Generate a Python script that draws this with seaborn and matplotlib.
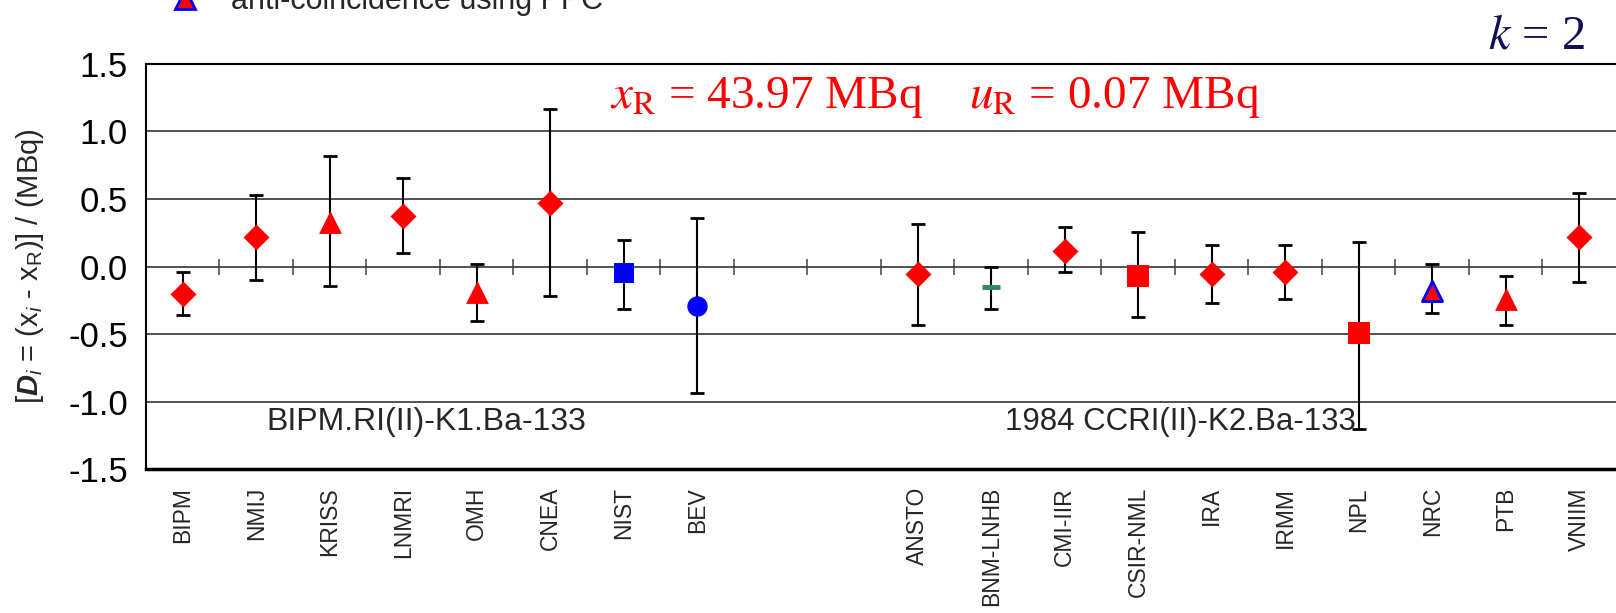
import numpy as np
import pandas as pd
import matplotlib
matplotlib.use("Agg")
import matplotlib.pyplot as plt
import seaborn as sns
from matplotlib.lines import Line2D
from matplotlib.ticker import FormatStrFormatter

# ---------------- data ----------------
categories = ["BIPM", "NMIJ", "KRISS", "LNMRI", "OMH", "CNEA", "NIST", "BEV", "", "",
              "ANSTO", "BNM-LNHB", "CMI-IIR", "CSIR-NML", "IRA", "IRMM", "NPL", "NRC", "PTB", "VNIIM"]
labs = ["BIPM", "NMIJ", "KRISS", "LNMRI", "OMH", "CNEA", "NIST", "BEV",
        "ANSTO", "BNM-LNHB", "CMI-IIR", "CSIR-NML", "IRA", "IRMM", "NPL", "NRC", "PTB", "VNIIM"]
values = [-0.20, 0.215, 0.33, 0.373, -0.19, 0.47, -0.05, -0.296,
          -0.057, -0.153, 0.116, -0.069, -0.057, -0.042, -0.494, -0.18, -0.244, 0.215]
upper = [-0.04, 0.53, 0.815, 0.657, 0.015, 1.17, 0.20, 0.36,
         0.314, 0.0, 0.289, 0.257, 0.16, 0.16, 0.185, 0.015, -0.069, 0.546]
lower = [-0.36, -0.10, -0.145, 0.10, -0.40, -0.217, -0.316, -0.94,
         -0.43, -0.316, -0.042, -0.373, -0.274, -0.244, -1.20, -0.343, -0.43, -0.114]
methods = ["diamond", "diamond", "triangle", "diamond", "triangle", "diamond", "bluesquare", "bluecircle",
           "diamond", "dash", "diamond", "redsquare", "diamond", "diamond", "redsquare", "ppc", "triangle", "diamond"]
yticks = [-1.5, -1.0, -0.5, 0.0, 0.5, 1.0, 1.5]
group_labels = ["BIPM.RI(II)-K1.Ba-133", "1984 CCRI(II)-K2.Ba-133"]
legend_label = "anti-coincidence using PPC"
ref_text = r"$x_{\mathrm{R}}$ = 43.97 MBq    $u_{\mathrm{R}}$ = 0.07 MBq"

# ---------------- styles ----------------
RED = "#ff0000"
BLUE = "#0000ff"
styles = {
    "diamond": dict(marker="D", s=175, color=RED, edgecolor=RED, linewidth=0),
    "triangle": dict(marker="^", s=270, color=RED, edgecolor=RED, linewidth=0),
    "bluesquare": dict(marker="s", s=200, color=BLUE, edgecolor=BLUE, linewidth=0),
    "bluecircle": dict(marker="o", s=215, color=BLUE, edgecolor=BLUE, linewidth=0),
    "dash": dict(marker="_", s=170, color="#2e8b57", edgecolor="#2e8b57", linewidth=3.5),
    "redsquare": dict(marker="s", s=245, color=RED, edgecolor=RED, linewidth=0),
    "ppc": dict(marker="^", s=210, color=RED, edgecolor=BLUE, linewidth=2),
}

sns.set_style("white")
plt.rcParams["font.family"] = ["Liberation Sans", "DejaVu Sans"]
plt.rcParams["axes.unicode_minus"] = False
plt.rcParams["mathtext.fontset"] = "custom"
plt.rcParams["mathtext.rm"] = "Liberation Sans"
plt.rcParams["mathtext.it"] = "Liberation Sans:italic"
plt.rcParams["mathtext.bf"] = "Liberation Sans:bold"
plt.rcParams["mathtext.bfit"] = "Liberation Sans:bold:italic"

pos = {c: i for i, c in enumerate(categories) if c}
df = pd.DataFrame({"lab": labs, "value": values, "upper": upper, "lower": lower, "method": methods})
df["x"] = df["lab"].map(pos)

fig = plt.figure(figsize=(16.16, 6.13), dpi=100)
ax = fig.add_axes([0.0903, 0.2349, 0.9097, 0.6607])

# error bars
ax.errorbar(df["x"], df["value"],
            yerr=[df["value"] - df["lower"], df["upper"] - df["value"]],
            fmt="none", ecolor="black", elinewidth=1.5, capsize=5, capthick=2, zorder=2)

# markers
for m, sub in df.groupby("method", sort=False):
    sns.scatterplot(data=sub, x="x", y="value", ax=ax, zorder=3, legend=False, **styles[m])

# axes formatting
ax.set_xlim(-0.5, len(categories) - 0.5)
ax.set_ylim(-1.5, 1.5)
ax.set_yticks(yticks)
ax.yaxis.set_major_formatter(FormatStrFormatter("%.1f"))
ax.set_xticks(np.arange(len(categories)))
ax.set_xticklabels(categories, rotation=90, fontsize=16.5, va="top", ha="center")
ax.tick_params(axis="x", length=0, pad=13)
ax.tick_params(axis="y", direction="out", length=7, width=1.2, labelsize=25, pad=6, colors="black")
ax.yaxis.grid(True, color="#333333", lw=1.2)
ax.xaxis.grid(False)
ax.set_xlabel("")
ax.set_ylabel(r"[$\mathbfit{D}_{\mathit{i}}$ = (x$_{\mathit{i}}$ - x$_{\mathrm{R}}$)] / (MBq)", fontsize=21)
ax.yaxis.set_label_coords(-0.068, 0.5)
for side in ["left", "top"]:
    ax.spines[side].set_color("black")
    ax.spines[side].set_linewidth(1.5)
ax.spines["bottom"].set_color("black")
ax.spines["bottom"].set_linewidth(2.5)
ax.spines["right"].set_visible(False)

# zero line with category-boundary ticks
sec = ax.secondary_xaxis(0.5)
sec.set_xticks(np.arange(len(categories) - 1) + 0.5)
sec.tick_params(direction="inout", length=11, width=1.1, labelbottom=False, labeltop=False,
                bottom=True, top=False, colors="#444444")
sec.spines["bottom"].set_color("#555555")
sec.spines["bottom"].set_linewidth(1.6)
sec.spines["top"].set_visible(False)

# texts
ax.text(3.32, -1.155, group_labels[0], ha="center", va="center", fontsize=23, zorder=1)
ax.text(13.58, -1.155, group_labels[1], ha="center", va="center", fontsize=22.5, zorder=1)
ax.text(10.23, 1.25, ref_text, ha="center", va="center", color=RED, fontsize=34,
        family="Liberation Serif", math_fontfamily="stix")
fig.text(0.951, 0.941, r"$k$ = 2", fontsize=35, color="#10105a", ha="center", va="center",
         family="Liberation Serif", math_fontfamily="stix")

# legend (cut off at the top, as in the reference)
h = Line2D([], [], marker="^", linestyle="none", markerfacecolor=RED, markeredgecolor=BLUE,
           markeredgewidth=2, markersize=14)
fig.legend(handles=[h], labels=[legend_label], loc="center left", bbox_to_anchor=(0.1058, 0.998),
           frameon=False, fontsize=22, borderpad=0, borderaxespad=0, handlelength=0.9,
           handletextpad=1.05)

fig.savefig("out.png", dpi=100)
